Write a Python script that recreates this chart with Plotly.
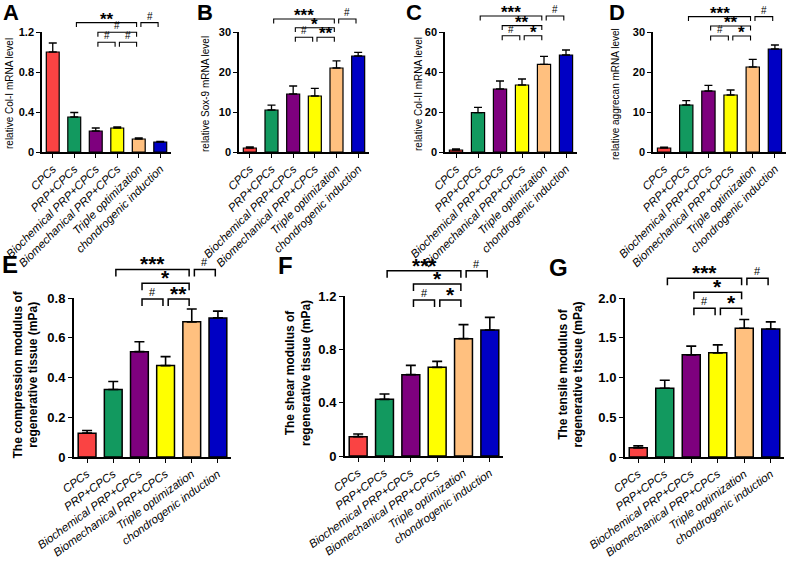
import plotly.graph_objects as go

W, H = 789, 562

groups = ["CPCs", "PRP+CPCs", "Biochemical PRP+CPCs", "Biomechanical PRP+CPCs",
          "Triple optimization", "chondrogenic induction"]
colors = ["#FA4343", "#12995F", "#7E007E", "#FFFF00", "#FFC07F", "#0000C4"]

# ---- data ----
col1_mean = [1.0, 0.35, 0.21, 0.24, 0.13, 0.10]
col1_err = [0.09, 0.045, 0.03, 0.01, 0.01, 0.006]
sox9_mean = [1.0, 10.5, 14.5, 14.0, 21.0, 24.0]
sox9_err = [0.3, 1.2, 2.0, 1.9, 1.8, 0.9]
col2_mean = [1.0, 19.7, 31.5, 33.5, 43.8, 48.5]
col2_err = [0.5, 2.6, 4.0, 3.0, 4.0, 2.5]
agg_mean = [1.0, 11.75, 15.25, 14.25, 21.25, 25.75]
agg_err = [0.2, 1.1, 1.4, 1.25, 1.9, 1.0]
comp_mean = [0.12, 0.34, 0.53, 0.46, 0.68, 0.70]
comp_err = [0.013, 0.04, 0.05, 0.045, 0.065, 0.034]
shear_mean = [0.145, 0.425, 0.61, 0.665, 0.88, 0.945]
shear_err = [0.02, 0.04, 0.07, 0.045, 0.105, 0.095]
tens_mean = [0.115, 0.865, 1.285, 1.31, 1.62, 1.61]
tens_err = [0.025, 0.1, 0.11, 0.1, 0.11, 0.09]

letters = ["A", "B", "C", "D", "E", "F", "G"]
ytitles = ["relative Col-I mRNA level", "relative Sox-9 mRNA level",
           "relative Col-II mRNA level", "relative aggrecan mRNA level",
           "The compression modulus of<br>regenerative tissue (mPa)",
           "The shear modulus of<br>regenerative tissue (mPa)",
           "The tensile modulus of<br>regenerative tissue (mPa)"]
yticks = [[0, 0.4, 0.8, 1.2], [0, 10, 20, 30], [0, 20, 40, 60], [0, 10, 20, 30],
          [0, 0.2, 0.4, 0.6, 0.8], [0, 0.4, 0.8, 1.2], [0, 0.5, 1.0, 1.5, 2.0]]
yticklabels = [["0", "0.4", "0.8", "1.2"], ["0", "10", "20", "30"], ["0", "20", "40", "60"],
               ["0", "10", "20", "30"], ["0", "0.2", "0.4", "0.6", "0.8"],
               ["0", "0.4", "0.8", "1.2"], ["0", "0.5", "1.0", "1.5", "2.0"]]
means = [col1_mean, sox9_mean, col2_mean, agg_mean, comp_mean, shear_mean, tens_mean]
errs = [col1_err, sox9_err, col2_err, agg_err, comp_err, shear_err, tens_err]

# significance brackets: (from group, to group, level index)
bracket_pairs = [(1, 4, 2), (2, 4, 1), (2, 3, 0), (3, 4, 0), (4, 5, 2)]
sig_labels = [["**", "#", "#", "#", "#"],
              ["***", "*", "#", "**", "#"],
              ["***", "**", "#", "*", "#"],
              ["***", "**", "#", "*", "#"],
              ["***", "*", "#", "**", "#"],
              ["***", "*", "#", "*", "#"],
              ["***", "*", "#", "*", "#"]]

# ---- layout positions (page pixels): x0, x1, ytop, ybottom ----
boxes = [(42, 171, 32, 152), (239, 369, 32, 152), (445, 577, 32, 152), (653, 786, 32, 152),
         (74, 231, 298, 457), (345, 503, 296, 456), (625, 784, 298, 457)]
# bracket levels in axis-domain fractions
levels = [[0.914, 0.998, 1.078], [0.956, 1.036, 1.108], [0.969, 1.053, 1.133],
          [0.967, 1.05, 1.128], [0.994, 1.092, 1.18], [0.975, 1.075, 1.158],
          [0.935, 1.036, 1.124]]
letter_pos = [(11, 13), (205, 13), (414, 13), (617, 13), (10, 264), (285, 266), (558, 267)]
ytitle_x = [9, 205, 418, 615, 25, 298, 570]

FONT = "Liberation Sans, Arial, sans-serif"


def px(x):
    return x / W


def py(y):
    return 1 - y / H


fig = go.Figure()
shapes = []
annotations = []

for k in range(7):
    top = k < 4
    ax = "" if k == 0 else str(k + 1)
    x0, x1, yt, yb = boxes[k]
    fig.add_trace(go.Bar(
        x=groups, y=means[k], xaxis="x" + ax, yaxis="y" + ax,
        width=0.6 if top else 0.68,
        marker=dict(color=colors, line=dict(color="black", width=1.2 if top else 1.5)),
        error_y=dict(type="data", array=errs[k], arrayminus=[0] * 6, symmetric=False,
                     color="black", thickness=1.3 if top else 1.6, width=4 if top else 5),
        showlegend=False, hoverinfo="skip"))
    fig.layout["xaxis" + ax] = dict(
        domain=[px(x0), min(px(x1), 1)], anchor="y" + ax, type="category", automargin=False,
        range=[-0.5, 5.5], showline=True, linecolor="black", linewidth=1.5 if top else 2,
        ticks="outside", ticklen=4, tickwidth=1.3, tickcolor="black",
        tickangle=-45 if top else -36, showgrid=False, zeroline=False,
        tickfont=dict(family=FONT, size=11.5, style="italic", color="black"))
    ymax = yticks[k][-1]
    fig.layout["yaxis" + ax] = dict(
        domain=[py(yb), py(yt)], anchor="x" + ax, range=[0, ymax], automargin=False,
        showline=True, linecolor="black", linewidth=1.5 if top else 2,
        ticks="outside", ticklen=4, tickwidth=1.3, tickcolor="black",
        tickvals=yticks[k], ticktext=yticklabels[k], showgrid=False, zeroline=False,
        tickfont=dict(family=FONT, size=11 if top else 13, weight="bold", color="black"))

    # brackets
    tl = 0.037 if top else 0.044
    for (i, j, lv), lab in zip(bracket_pairs, sig_labels[k]):
        yl = levels[k][lv]
        a, b = i + 0.1, j - 0.1
        shapes.append(dict(type="path", xref="x" + ax, yref="y" + ax + " domain",
                           path=f"M {a},{yl - tl} L {a},{yl} L {b},{yl} L {b},{yl - tl}",
                           line=dict(color="black", width=1.1 if top else 1.5)))
        star = "*" in lab
        fsz = (17 if top else 21) if star else (10 if top else 11)
        annotations.append(dict(xref="x" + ax, yref="y" + ax + " domain",
                                x=(a + b) / 2, y=yl, yanchor="bottom", yshift=(-8 if star else -1),
                                text=lab, showarrow=False,
                                font=dict(family=FONT, size=fsz, color="black",
                                          weight="bold" if star else "normal")))

    # panel letter
    lx, ly = letter_pos[k]
    annotations.append(dict(xref="paper", yref="paper", x=px(lx), y=py(ly),
                            xanchor="center", yanchor="middle", text=letters[k], showarrow=False,
                            font=dict(family=FONT, size=22 if top else 24, weight="bold",
                                      color="black")))
    # y title
    annotations.append(dict(xref="paper", yref="paper", x=px(ytitle_x[k]),
                            y=py((yt + yb) / 2 - (3 if not top else -2)),
                            xanchor="center", yanchor="middle", textangle=-90,
                            text=ytitles[k], showarrow=False,
                            font=dict(family=FONT, size=10 if top else 12,
                                      weight="normal" if top else "bold", color="black")))

fig.update_layout(width=W, height=H, margin=dict(l=0, r=0, t=0, b=0),
                  paper_bgcolor="white", plot_bgcolor="white",
                  shapes=shapes, annotations=annotations, hovermode=False,
                  font=dict(family=FONT, color="black"))
fig.write_html("out.html", config={"displayModeBar": False},
               post_script="document.body.style.margin='0px';")
